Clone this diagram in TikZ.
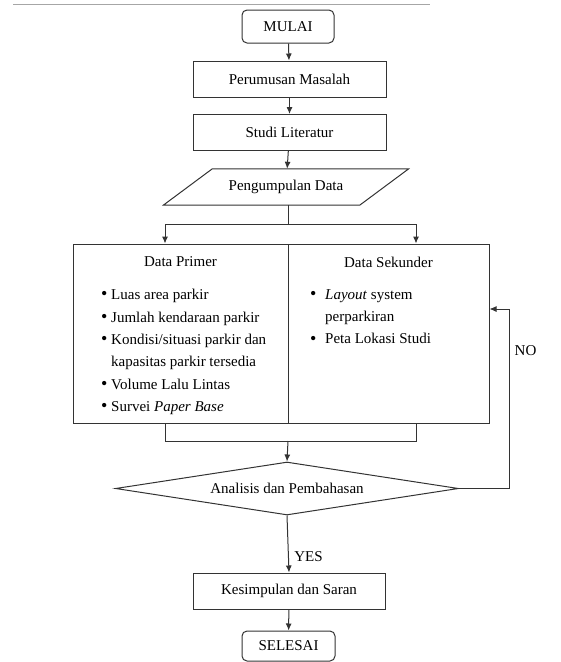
\documentclass[tikz,border=0pt]{standalone}
\usepackage{fontspec}
\setmainfont{Liberation Serif}
\usepackage{tikz}
\usetikzlibrary{calc,arrows.meta,shapes.geometric}

\newcommand{\butir}[1]{\makebox[#1][l]{\raisebox{-0.3pt}{\fontsize{18}{0}\selectfont\textbullet}}}

\begin{document}
\begin{tikzpicture}[x=1pt, y=-1pt,
                    every node/.style={font=\fontsize{15}{22.4}\selectfont},
                    line/.style={draw=black!80, line width=1pt},
                    arr/.style={line, -{Latex[length=7pt,width=6pt]}},
                    box/.style={line, minimum width=193pt, minimum height=36pt, inner sep=0pt},
                    term/.style={line, rounded corners=5pt, minimum width=92pt, inner sep=0pt},
                    list/.style={align=left, inner sep=0pt, anchor=north west}]
        \useasboundingbox (0,0) rectangle (561,662);
        % page rule
        \draw[gray!70, line width=1.2pt] (13,4.5) -- (430,4.5);
        % main steps
        \node[term, minimum height=33pt] (mulai) at (288,26.5) {MULAI};
        \node[box] (rumus) at (289.5,79) {Perumusan Masalah};
        \node[box] (studi) at (289.5,132.5) {Studi Literatur};
        \node[minimum width=196pt, minimum height=36pt, inner sep=0pt] (kumpul) at (286,187) {Pengumpulan Data};
        \draw[line] ($(kumpul.south west)+(-24.5,0)$) -- ($(kumpul.south east)+(-24.5,0)$)
                 -- ($(kumpul.north east)+(24.5,0)$) -- ($(kumpul.north west)+(24.5,0)$) -- cycle;
        % data boxes
        \node[line, minimum width=215pt, minimum height=179pt, inner sep=0pt] (primer) at (180.5,333.5) {};
        \node[line, minimum width=201pt, minimum height=179pt, inner sep=0pt] (sekunder) at (388.5,333.5) {};
        \node (tprimer) at (180.5,262) {Data Primer};
        \node (tsekunder) at (388.5,262) {Data Sekunder};
        \node[list] (lprimer) at (101,289) {\butir{10pt}Luas area parkir\\
            \butir{10pt}Jumlah kendaraan parkir\\
            \butir{10pt}Kondisi/situasi parkir dan\\
            \hspace*{10pt}kapasitas parkir tersedia\\
            \butir{10pt}Volume Lalu Lintas\\
            \butir{10pt}Survei \textit{Paper Base}};
        \node[list] (lsekunder) at (310,289) {\butir{15pt}\textit{Layout} system\\
            \hspace*{15pt}perparkiran\\
            \butir{15pt}Peta Lokasi Studi};
        % decision and end
        \node[line, diamond, aspect=6.5, minimum width=343pt, minimum height=53pt, inner sep=0pt] (analisis) at (287,488.5) {Analisis dan Pembahasan};
        \node[box, minimum width=192pt] (simpul) at (289,591) {Kesimpulan dan Saran};
        \node[term, minimum width=93pt, minimum height=30pt] (selesai) at (288.5,646) {SELESAI};
        % helper points
        \coordinate (pisahL) at (165,224);
        \coordinate (pisahR) at (416,224);
        \coordinate (gabungL) at (165,441);
        \coordinate (gabungR) at (416,441);
        \coordinate (gabung) at (288,441);
        \coordinate (balik) at (509,309);
        % connectors
        \draw[arr] (mulai) -- (rumus);
        \draw[arr] (rumus) -- (studi);
        \draw[arr] (studi) -- (kumpul);
        \draw[line] (kumpul.south -| 288,0) -- (pisahL -| 288,0);
        \draw[line] (pisahL) -- (pisahR);
        \draw[arr] (pisahL) -- (pisahL |- primer.north);
        \draw[arr] (pisahR) -- (pisahR |- sekunder.north);
        \draw[line] (gabungL |- primer.south) -- (gabungL) -- (gabungR) -- (gabungR |- sekunder.south);
        \draw[arr] (gabung) -- (analisis.north);
        \draw[arr] (analisis.east) -| (balik) -- (balik -| sekunder.east);
        \draw[arr] (analisis.south) -- (simpul.north);
        \draw[arr] (simpul) -- (selesai);
        % branch labels
        \node (no) at (525.5,351) {NO};
        \node (yes) at (308.5,557) {YES};
      \end{tikzpicture}
\end{document}
